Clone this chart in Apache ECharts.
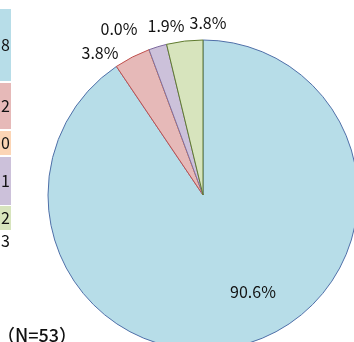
<!DOCTYPE html>
<html><head><meta charset="utf-8">
<script src="https://cdn.jsdelivr.net/npm/echarts@6/dist/echarts.min.js"></script>
<style>html,body{margin:0;padding:0;background:#fff}#c{width:354px;height:342px}</style>
</head><body><div id="c"></div>
<script>
var categories = ['A','B','C','D','E'];
var counts = [48, 2, 0, 1, 2];
var total = 53;
var sliceColors = ['#b7dde8','#e6b9b8','#fcd5b5','#ccc1da','#d7e4bd'];
var borderColors = ['#4f6fa8','#c0504d','#e59a5c','#7d6a9e','#5f7a2f'];
// label anchor positions (layout only)
var labelPos = [[253,292],[100,53],[119,29],[166,26],[208,23]];
// left table (cropped) cell extents (layout only)
var cellBands = [[9,81],[83,129],[131,155],[157,205],[206,230]];
var tableTexts = ['8','2','0','1','2','3'];

var chart = echarts.init(document.getElementById('c'), null, {renderer:'canvas'});
var font = '"Noto Sans CJK JP", "Noto Sans", sans-serif';
var graphics = [];
cellBands.forEach(function(b,i){
  graphics.push({type:'rect', shape:{x:0,y:b[0],width:11,height:b[1]-b[0]}, style:{fill:sliceColors[i]}, z:1});
  graphics.push({type:'text', x:10, y:(b[0]+b[1])/2, style:{text:tableTexts[i], fill:'#111', font:'16px '+font, textAlign:'right', textVerticalAlign:'middle'}, z:2});
});
graphics.push({type:'text', x:10, y:241, style:{text:tableTexts[5], fill:'#111', font:'16px '+font, textAlign:'right', textVerticalAlign:'middle'}, z:2});
graphics.push({type:'text', x:-3, y:335, style:{text:'（N=53）', fill:'#111', font:'500 18px '+font, textAlign:'left', textVerticalAlign:'middle'}, z:2});

chart.setOption({
  animation:false,
  graphic: graphics,
  series:[{
    type:'pie',
    center:[203,195],
    radius:155,
    startAngle:90,
    clockwise:true,
    minShowLabelAngle:0,
    avoidLabelOverlap:false,
    data: categories.map(function(c,i){
      return {name:c, value:counts[i], itemStyle:{color:sliceColors[i], borderColor:borderColors[i], borderWidth:1}};
    }),
    label:{show:true, position:'outside', color:'#111', fontSize:16, fontFamily:font,
      formatter:function(p){ return (p.value/total*100).toFixed(1)+'%'; }},
    labelLine:{show:false},
    labelLayout:function(p){
      var pos = labelPos[p.dataIndex];
      return {x:pos[0], y:pos[1], align:'center', verticalAlign:'middle', hideOverlap:false};
    }
  }]
});
</script></body></html>
